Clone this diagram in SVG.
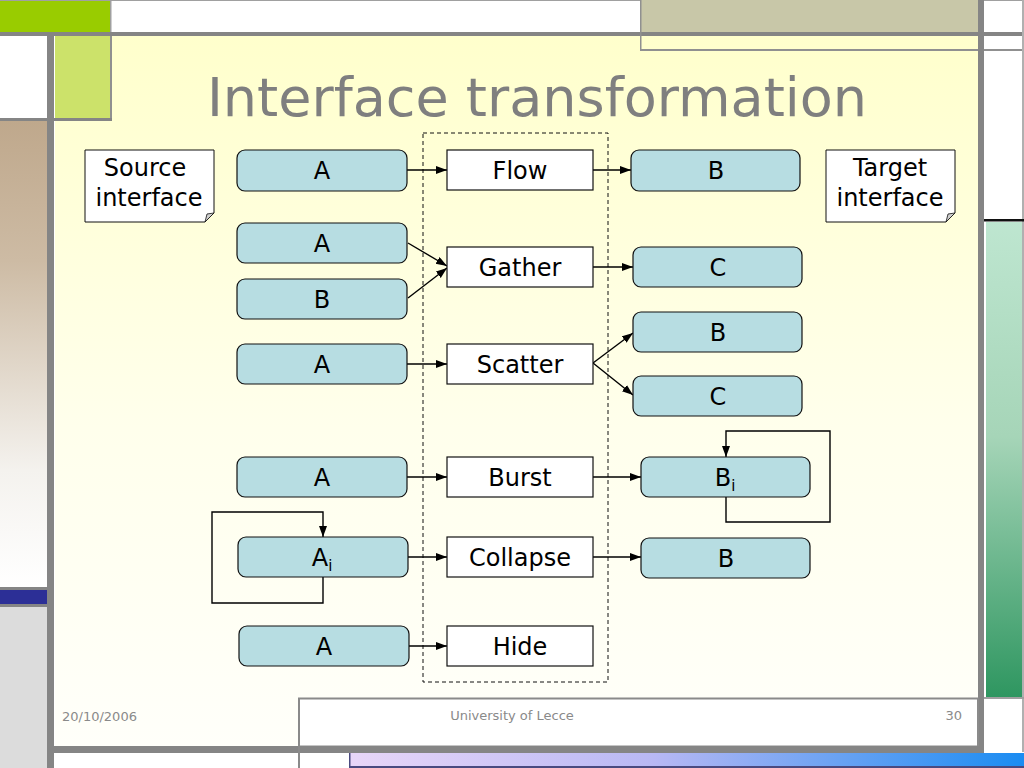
<svg xmlns="http://www.w3.org/2000/svg" width="1024" height="768" viewBox="0 0 1024 768">
<defs>
<linearGradient id="bg" x1="0" y1="0" x2="0" y2="1">
<stop offset="0" stop-color="#FFFFCC"/>
<stop offset="0.55" stop-color="#FFFFEC"/>
<stop offset="1" stop-color="#FFFFFA"/>
</linearGradient>
<linearGradient id="tan" x1="0" y1="0" x2="0" y2="1">
<stop offset="0" stop-color="#BFA88C"/>
<stop offset="0.3" stop-color="#CDBBA4"/>
<stop offset="0.75" stop-color="#F4F2EE"/>
<stop offset="1" stop-color="#FFFFFF"/>
</linearGradient>
<linearGradient id="green" x1="0" y1="0" x2="0" y2="1">
<stop offset="0" stop-color="#BEE6D0"/>
<stop offset="0.45" stop-color="#A6D5B8"/>
<stop offset="1" stop-color="#2E9660"/>
</linearGradient>
<linearGradient id="lav" x1="0" y1="0" x2="1" y2="0">
<stop offset="0" stop-color="#E8D6F8"/>
<stop offset="0.45" stop-color="#B8B8F4"/>
<stop offset="1" stop-color="#1A8CF2"/>
</linearGradient>
<marker id="arr" markerUnits="userSpaceOnUse" markerWidth="12" markerHeight="10" refX="11" refY="4" orient="auto">
<path d="M0,0 L11,4 L0,8 Z" fill="#000"/>
</marker>
<style>
.src{fill:#B7DDE2;stroke:#111;stroke-width:1.2}
.op{fill:#FFFFFF;stroke:#111;stroke-width:1.2}
.note{fill:#FFFFFF;stroke:#111;stroke-width:1}
.t{font-family:"DejaVu Sans","Liberation Sans",sans-serif;font-size:24px;fill:#000;text-anchor:middle}
.sub{font-size:15px;fill:#000}
.ft{font-family:"DejaVu Sans","Liberation Sans",sans-serif;font-size:13px;fill:#8A8A8A}
.c{fill:none;stroke:#000;stroke-width:1.4}
.g{fill:#858585}
</style>
</defs>

<g id="background">
<rect x="0" y="0" width="1024" height="768" fill="#FFFFFF"/>
<rect x="55" y="36" width="923" height="712" fill="url(#bg)"/>
<rect x="0" y="0" width="110" height="32" fill="#99CC00"/>
<rect x="0" y="0" width="1024" height="1" fill="#A0A0A0"/>
<rect x="110" y="0" width="1.5" height="34" fill="#A0A0A0"/>
<rect x="640" y="0" width="338" height="33" fill="#C8C7A8"/>
<rect x="0" y="32" width="1024" height="4" class="g"/>
<rect x="640" y="0" width="1.5" height="51" fill="#909090"/>
<rect x="640" y="49" width="384" height="2" fill="#909090"/>
<rect x="55" y="36" width="55" height="82" fill="#CCE26A"/>
<rect x="110" y="36" width="2" height="84" fill="#909090"/>
<rect x="0" y="118" width="112" height="3" class="g"/>
<rect x="0" y="121" width="47" height="466" fill="url(#tan)"/>
<rect x="0" y="587" width="47" height="20" class="g"/>
<rect x="0" y="590" width="47" height="14" fill="#2C2F96"/>
<rect x="0" y="607" width="47" height="161" fill="#DCDCDC"/>
<rect x="47" y="36" width="7" height="732" class="g"/>
<rect x="978" y="0" width="6" height="752" class="g"/>
<rect x="1022" y="0" width="2" height="752" fill="#B0B0B0"/>
<rect x="984" y="219" width="40" height="2.5" fill="#111"/>
<rect x="986" y="222" width="36" height="476" fill="url(#green)"/>
<rect x="984" y="697" width="40" height="2" fill="#A0A0A0"/>
<rect x="299" y="698.5" width="679" height="48" fill="#FFFFFF" stroke="#8A8A8A" stroke-width="2"/>
<rect x="47" y="746" width="937" height="7" class="g"/>
<rect x="298" y="746" width="2" height="22" fill="#8A8A8A"/>
<rect x="350" y="753" width="674" height="13" fill="url(#lav)"/>
<rect x="350" y="766" width="674" height="2" fill="#4A4A80"/>
<rect x="349" y="753" width="1.5" height="15" fill="#4A4A80"/>
</g>

<g id="title">
<text x="537" y="116" font-family="DejaVu Sans, Liberation Sans, sans-serif" font-size="54" fill="#7F7F7F" text-anchor="middle">Interface transformation</text>
</g>

<g id="container">
<rect x="423" y="133" width="185" height="549" fill="none" stroke="#111" stroke-width="1" stroke-dasharray="4,3"/>
</g>

<g id="source-note">
<path class="note" d="M85,150 H214 V213 L205,222 H85 Z"/>
<path d="M205,222 L207,214 L214,213 Z" fill="#D0D0D0" stroke="#111" stroke-width="0.8"/>
<text class="t" x="145" y="176">Source</text>
<text class="t" x="149" y="206">interface</text>
</g>
<g id="target-note">
<path class="note" d="M826,150 H955 V213 L946,222 H826 Z"/>
<path d="M946,222 L948,214 L955,213 Z" fill="#D0D0D0" stroke="#111" stroke-width="0.8"/>
<text class="t" x="890" y="176">Target</text>
<text class="t" x="890" y="206">interface</text>
</g>

<g id="connectors">
<line class="c" x1="407" y1="170" x2="447" y2="170" marker-end="url(#arr)"/>
<line class="c" x1="593" y1="170" x2="631" y2="170" marker-end="url(#arr)"/>
<line class="c" x1="408" y1="243" x2="447" y2="266" marker-end="url(#arr)"/>
<line class="c" x1="408" y1="298" x2="447" y2="268" marker-end="url(#arr)"/>
<line class="c" x1="593" y1="267" x2="633" y2="267" marker-end="url(#arr)"/>
<line class="c" x1="407" y1="364" x2="447" y2="364" marker-end="url(#arr)"/>
<line class="c" x1="593" y1="363" x2="633" y2="333" marker-end="url(#arr)"/>
<line class="c" x1="593" y1="363" x2="633" y2="395" marker-end="url(#arr)"/>
<line class="c" x1="407" y1="477" x2="447" y2="477" marker-end="url(#arr)"/>
<line class="c" x1="593" y1="477" x2="641" y2="477" marker-end="url(#arr)"/>
<path class="c" d="M726,497 V522 H830 V431 H726 V457" marker-end="url(#arr)"/>
<path class="c" d="M323,577 V603 H212 V512 H323 V537" marker-end="url(#arr)"/>
<line class="c" x1="407" y1="557" x2="447" y2="557" marker-end="url(#arr)"/>
<line class="c" x1="593" y1="557" x2="641" y2="557" marker-end="url(#arr)"/>
<line class="c" x1="408" y1="646" x2="447" y2="646" marker-end="url(#arr)"/>
</g>

<g id="src-A1"><rect class="src" x="237" y="150" width="170" height="41" rx="8"/><text class="t" x="322" y="179">A</text></g>
<g id="src-A2"><rect class="src" x="237" y="223" width="170" height="40" rx="8"/><text class="t" x="322" y="252">A</text></g>
<g id="src-B"><rect class="src" x="237" y="279" width="170" height="40" rx="8"/><text class="t" x="322" y="308">B</text></g>
<g id="src-A3"><rect class="src" x="237" y="344" width="170" height="40" rx="8"/><text class="t" x="322" y="373">A</text></g>
<g id="src-A4"><rect class="src" x="237" y="457" width="170" height="40" rx="8"/><text class="t" x="322" y="486">A</text></g>
<g id="src-Ai"><rect class="src" x="238" y="537" width="170" height="40" rx="8"/><text class="t" x="322" y="566">A<tspan class="sub" dy="5">i</tspan></text></g>
<g id="src-A5"><rect class="src" x="239" y="626" width="170" height="40" rx="8"/><text class="t" x="324" y="655">A</text></g>

<g id="op-flow"><rect class="op" x="447" y="150" width="146" height="40"/><text class="t" x="520" y="179">Flow</text></g>
<g id="op-gather"><rect class="op" x="447" y="247" width="146" height="40"/><text class="t" x="520" y="276">Gather</text></g>
<g id="op-scatter"><rect class="op" x="447" y="344" width="146" height="40"/><text class="t" x="520" y="373">Scatter</text></g>
<g id="op-burst"><rect class="op" x="447" y="457" width="146" height="40"/><text class="t" x="520" y="486">Burst</text></g>
<g id="op-collapse"><rect class="op" x="447" y="537" width="146" height="40"/><text class="t" x="520" y="566">Collapse</text></g>
<g id="op-hide"><rect class="op" x="447" y="626" width="146" height="40"/><text class="t" x="520" y="655">Hide</text></g>

<g id="tgt-B1"><rect class="src" x="631" y="150" width="169" height="41" rx="8"/><text class="t" x="716" y="179">B</text></g>
<g id="tgt-C1"><rect class="src" x="633" y="247" width="169" height="40" rx="8"/><text class="t" x="718" y="276">C</text></g>
<g id="tgt-B2"><rect class="src" x="633" y="312" width="169" height="40" rx="8"/><text class="t" x="718" y="341">B</text></g>
<g id="tgt-C2"><rect class="src" x="633" y="376" width="169" height="40" rx="8"/><text class="t" x="718" y="405">C</text></g>
<g id="tgt-Bi"><rect class="src" x="641" y="457" width="169" height="40" rx="8"/><text class="t" x="725" y="486">B<tspan class="sub" dy="5">i</tspan></text></g>
<g id="tgt-B3"><rect class="src" x="641" y="538" width="169" height="40" rx="8"/><text class="t" x="726" y="567">B</text></g>

<g id="footer">
<text class="ft" x="62" y="721">20/10/2006</text>
<text class="ft" x="512" y="720" text-anchor="middle">University of Lecce</text>
<text class="ft" x="962" y="720" text-anchor="end">30</text>
</g>
</svg>
